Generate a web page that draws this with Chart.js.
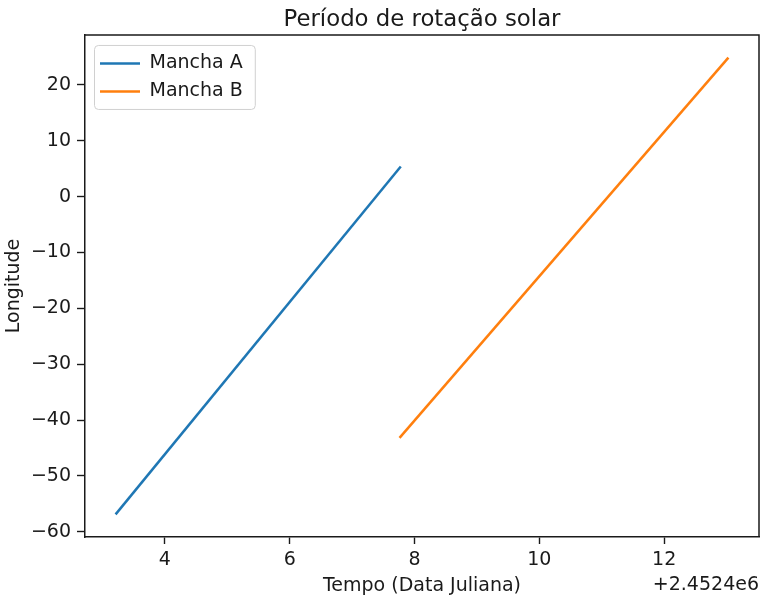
<!DOCTYPE html>
<html>
<head>
<meta charset="utf-8">
<script src="https://cdn.jsdelivr.net/npm/chart.js@4/dist/chart.umd.min.js"></script>
<style>
  body { margin: 0; background: #fff; }
  canvas { display: block; }
</style>
</head>
<body>
<canvas id="chart" width="761" height="598"></canvas>
<script>
// Julian dates of the observations, longitude in degrees
const JD_OFFSET = 2452400;
const manchaA_jd = [2452403.21, 2452407.78];
const manchaA_lon = [-56.9, 5.4];
const manchaB_jd = [2452407.76, 2452413.03];
const manchaB_lon = [-43.2, 24.9];

// tick values (x shown relative to JD_OFFSET)
const xTicks = [2452404, 2452406, 2452408, 2452410, 2452412];
const yTicks = [-60, -50, -40, -30, -20, -10, 0, 10, 20];

const TEXT = '#1a1a1a';
Chart.defaults.font.family = '"DejaVu Sans", sans-serif';
Chart.defaults.color = TEXT;

function toPoints(xs, ys) {
  return xs.map((x, i) => ({ x: x, y: ys[i] }));
}

// top/right spines, legend frame and the axis offset text
const mplFrame = {
  id: 'mplFrame',
  afterLayout(chart) {
    const lg = chart.legend;
    const a = chart.chartArea;
    const h = lg.height;
    lg.left = a.left + 6;
    lg.right = lg.left + lg.width;
    lg.top = a.top + 10;
    lg.bottom = lg.top + h;
  },
  afterDraw(chart) {
    const { ctx, chartArea: a } = chart;
    ctx.save();
    ctx.strokeStyle = TEXT;
    ctx.lineWidth = 1.5;
    ctx.beginPath();
    ctx.moveTo(a.left, a.top);
    ctx.lineTo(a.right, a.top);
    ctx.lineTo(a.right, a.bottom);
    ctx.stroke();

    const hb = chart.legend.legendHitBoxes;
    if (hb && hb.length) {
      const l = Math.min(...hb.map(b => b.left)) - 6;
      const t = hb[0].top - 9;
      const r = Math.max(...hb.map(b => b.left + b.width)) + 12;
      const last = hb[hb.length - 1];
      const btm = last.top + last.height + 8;
      ctx.strokeStyle = '#d0d0d0';
      ctx.lineWidth = 1;
      ctx.beginPath();
      ctx.roundRect(l + 0.5, t + 0.5, r - l, btm - t, 4);
      ctx.stroke();
    }

    ctx.fillStyle = TEXT;
    ctx.font = '19px "DejaVu Sans"';
    ctx.textAlign = 'right';
    ctx.textBaseline = 'middle';
    ctx.fillText('+2.4524e6', a.right, 585);
    ctx.restore();
  }
};

new Chart(document.getElementById('chart'), {
  type: 'line',
  data: {
    datasets: [
      { label: 'Mancha A', data: toPoints(manchaA_jd, manchaA_lon), borderColor: '#1f77b4', backgroundColor: '#1f77b4', borderWidth: 2.5, pointRadius: 0, tension: 0 },
      { label: 'Mancha B', data: toPoints(manchaB_jd, manchaB_lon), borderColor: '#ff7f0e', backgroundColor: '#ff7f0e', borderWidth: 2.5, pointRadius: 0, tension: 0 }
    ]
  },
  options: {
    responsive: false,
    animation: false,
    devicePixelRatio: 1,
    layout: { padding: { left: 0, right: 2, top: 0, bottom: 0 } },
    plugins: {
      title: {
        display: true,
        text: 'Período de rotação solar',
        fullSize: false,
        color: TEXT,
        font: { size: 22.8, weight: 'normal' },
        padding: { top: 6.3, bottom: 1.3 }
      },
      legend: {
        position: 'chartArea',
        align: 'start',
        labels: {
          usePointStyle: true,
          pointStyle: 'line',
          pointStyleWidth: 40,
          padding: 9,
          color: TEXT,
          font: { size: 19 }
        }
      },
      tooltip: { enabled: false }
    },
    scales: {
      x: {
        type: 'linear',
        min: 2452402.72,
        max: 2452413.52,
        afterFit: s => { s.height = 61; },
        afterBuildTicks: s => { s.ticks = xTicks.map(v => ({ value: v })); },
        ticks: {
          padding: 5,
          color: TEXT,
          font: { size: 19 },
          maxRotation: 0,
          autoSkip: false,
          callback: v => String(Math.round(v - JD_OFFSET))
        },
        grid: { drawOnChartArea: false, drawTicks: true, tickLength: 7, tickColor: TEXT, tickWidth: 1.4 },
        border: { display: true, color: TEXT, width: 1.5 },
        title: { display: true, text: 'Tempo (Data Juliana)', color: TEXT, font: { size: 19 }, padding: { top: 0, bottom: 1 } }
      },
      y: {
        min: -60.95,
        max: 28.96,
        afterFit: s => { s.width = 85; },
        afterBuildTicks: s => { s.ticks = yTicks.map(v => ({ value: v })); },
        ticks: {
          padding: 6,
          color: TEXT,
          font: { size: 19 },
          autoSkip: false,
          callback: v => String(v).replace('-', '\u2212')
        },
        grid: { drawOnChartArea: false, drawTicks: true, tickLength: 8, tickColor: TEXT, tickWidth: 1.4 },
        border: { display: true, color: TEXT, width: 1.5 },
        title: { display: true, text: 'Longitude', color: TEXT, font: { size: 19 }, padding: { top: 3, bottom: 0 } }
      }
    }
  },
  plugins: [mplFrame]
});
</script>
</body>
</html>
